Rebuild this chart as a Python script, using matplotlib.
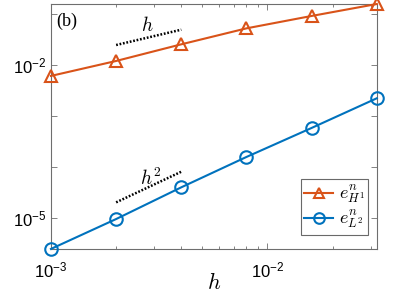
import matplotlib
matplotlib.use('Agg')
import matplotlib.pyplot as plt
from matplotlib.ticker import LogLocator, NullFormatter

# data
h = [0.001, 0.002, 0.004, 0.008, 0.016, 0.032]
err_H1 = [6.1e-3, 1.2e-2, 2.55e-2, 5.25e-2, 9.2e-2, 0.158]
err_L2 = [2.43e-6, 9.4e-6, 3.95e-5, 1.56e-4, 5.8e-4, 2.22e-3]

# reference slopes
ref_h_x = [0.002, 0.004]
ref_h_y = [2.47e-2, 4.94e-2]
ref_h2_x = [0.002, 0.004]
ref_h2_y = [2.0e-5, 8.0e-5]

plt.rcParams['mathtext.fontset'] = 'cm'
plt.rcParams['font.family'] = 'Liberation Sans'

red = '#D95319'
blue = '#0072BD'
axcol = '#6e6e6e'

fig = plt.figure(figsize=(3.95, 2.96), dpi=100)
ax = fig.add_axes([0.129, 0.159, 0.825, 0.8275])

ax.loglog(h, err_H1, '-^', color=red, lw=1.5, ms=9, mfc='none', mew=1.5,
          clip_on=False, label=r'$e^n_{H^1}$', zorder=3)
ax.loglog(h, err_L2, '-o', color=blue, lw=1.5, ms=9, mfc='none', mew=1.5,
          clip_on=False, label=r'$e^n_{L^2}$', zorder=3)
ax.loglog(ref_h_x, ref_h_y, color='black', lw=1.8, ls=(0, (0.7, 0.7)))
ax.loglog(ref_h2_x, ref_h2_y, color='black', lw=1.8, ls=(0, (0.7, 0.7)))

ax.text(0.0028, 3.9e-2, r'$h$', fontsize=14, ha='center', va='bottom')
ax.text(0.0029, 3.7e-5, r'$h^2$', fontsize=14, ha='center', va='bottom')
ax.text(0.015, 0.965, '(b)', transform=ax.transAxes, fontsize=13,
        family='Liberation Serif', va='top', ha='left')

ax.set_xlim(h[0], h[-1])
ax.set_ylim(min(err_L2), max(err_H1))

ax.yaxis.set_minor_locator(LogLocator(base=10, numticks=20))
ax.set_yticks([1e-5, 1e-4, 1e-3, 1e-2, 1e-1])
ax.set_yticklabels([r'$\mathdefault{10^{-5}}$', '', '', r'$\mathdefault{10^{-2}}$', ''])
ax.yaxis.set_minor_formatter(NullFormatter())
ax.xaxis.set_minor_formatter(NullFormatter())
ax.set_xticks([1e-3, 1e-2])
ax.set_xticklabels([r'$\mathdefault{10^{-3}}$', r'$\mathdefault{10^{-2}}$'])

ax.tick_params(which='both', direction='in', top=True, right=True,
               color=axcol, labelsize=12, width=0.6)
ax.tick_params(which='major', length=4)
ax.tick_params(which='minor', length=2.5)
ax.tick_params(axis='x', pad=8)
for s in ax.spines.values():
    s.set_color(axcol)
    s.set_linewidth(0.8)

ax.set_xlabel(r'$h$', fontsize=16, labelpad=-5)

leg = ax.legend(loc='lower right', bbox_to_anchor=(0.99, 0.035), fontsize=13,
                fancybox=False, edgecolor='#444444', handlelength=1.6,
                handletextpad=0.3, borderpad=0.2, labelspacing=0.1,
                borderaxespad=0.3, markerscale=0.85)
leg.get_frame().set_linewidth(0.8)

fig.savefig('out.png', dpi=100)
